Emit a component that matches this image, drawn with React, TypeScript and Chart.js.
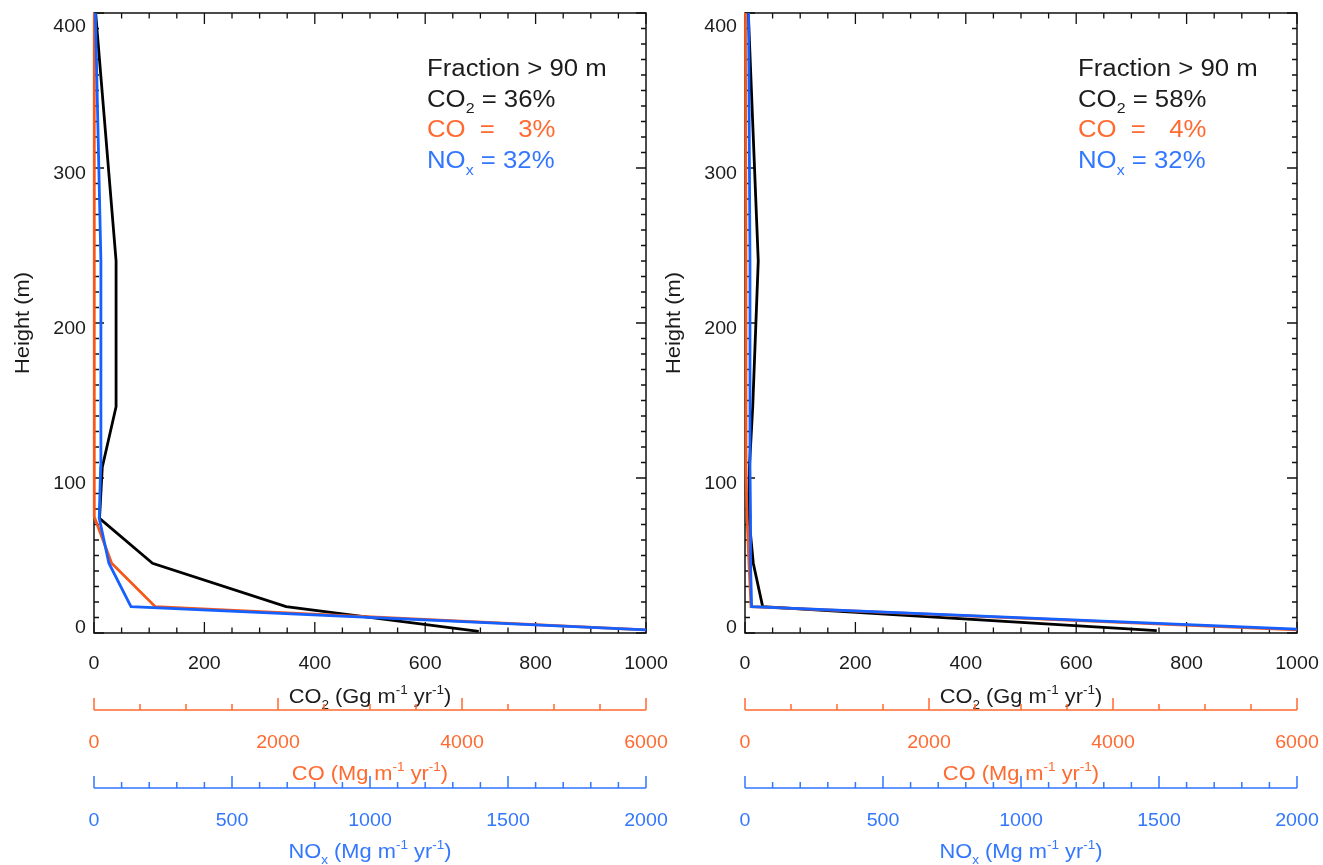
import React, { useEffect, useRef } from 'react';
import { Chart, registerables } from 'chart.js';

Chart.register(...registerables);

// ---------- axis ticks ----------
const heightTicks = [0, 100, 200, 300, 400];
const heightMinorStep = 10;
const co2Ticks = [0, 200, 400, 600, 800, 1000];
const co2MinorStep = 50;
const coTicks = [0, 2000, 4000, 6000];
const coMinorStep = 500;
const noxTicks = [0, 500, 1000, 1500, 2000];
const noxMinorStep = 100;

// ---------- left panel data ----------
const co2HeightsL = [1, 17, 45, 74, 107, 146, 240, 400];
const co2ValuesL = [697, 348, 106, 10, 15, 40, 40, 3];
const coHeightsL = [2, 17, 45, 75, 107, 146, 240, 400];
const coValuesL = [6000, 666, 192, 3, 3, 3, 3, 3];
const noxHeightsL = [2, 17, 45, 74, 107, 146, 240, 400];
const noxValuesL = [2000, 134, 54, 19, 24, 25, 25, 5];
const fractionsL = ['36%', '3%', '32%'];

// ---------- right panel data ----------
const co2HeightsR = [1.5, 17, 45, 75, 107, 146, 240, 400];
const co2ValuesR = [746, 32, 15, 7, 8, 14, 24, 6];
const coHeightsR = [2, 17, 45, 75, 107, 146, 240, 400];
const coValuesR = [6000, 65, 43, 22, 11, 11, 11, 5];
const noxHeightsR = [2.5, 17, 45, 75, 107, 146, 240, 400];
const noxValuesR = [2000, 24, 20, 20, 18, 18, 18, 13];
const fractionsR = ['58%', '4%', '32%'];

// ---------- style ----------
const FONT = '"Liberation Sans", Arial, Helvetica, sans-serif';
const STRETCH = 1.12;
const AXIS = '#111111';
const TEXT = '#1c1c1c';
const ORANGE_LINE = '#F5581A';
const ORANGE_TEXT = '#FF6A30';
const BLUE_LINE = '#1560FF';
const BLUE_TEXT = '#3377FF';

type Seg = { t: string; s?: 'sub' | 'sup' };

function segSize(seg: Seg, size: number) {
  return seg.s ? size * 0.62 : size;
}

function measureSegs(ctx: CanvasRenderingContext2D, segs: Seg[], size: number) {
  return segs.map((seg) => {
    ctx.font = `${segSize(seg, size)}px ${FONT}`;
    return ctx.measureText(seg.t).width * STRETCH;
  });
}

function fillStretched(ctx: CanvasRenderingContext2D, t: string, x: number, y: number, size: number, color: string) {
  ctx.save();
  ctx.font = `${size}px ${FONT}`;
  ctx.fillStyle = color;
  ctx.textAlign = 'left';
  ctx.textBaseline = 'alphabetic';
  ctx.translate(x, y);
  ctx.scale(STRETCH, 1);
  ctx.fillText(t, 0, 0);
  ctx.restore();
}

function drawRich(
  ctx: CanvasRenderingContext2D,
  segs: Seg[],
  x: number,
  y: number,
  size: number,
  color: string,
  align: 'left' | 'center' | 'right' = 'left'
) {
  const widths = measureSegs(ctx, segs, size);
  const total = widths.reduce((a, b) => a + b, 0);
  let cx = align === 'center' ? x - total / 2 : align === 'right' ? x - total : x;
  const starts: number[] = [];
  segs.forEach((seg, i) => {
    const dy = seg.s === 'sub' ? size * 0.29 : seg.s === 'sup' ? -size * 0.45 : 0;
    starts.push(cx);
    fillStretched(ctx, seg.t, cx, y + dy, segSize(seg, size), color);
    cx += widths[i];
  });
  return { starts, widths, total };
}

function textW(ctx: CanvasRenderingContext2D, t: string, size: number) {
  ctx.font = `${size}px ${FONT}`;
  return ctx.measureText(t).width * STRETCH;
}

function makePlugin(fractions: string[]) {
  return {
    id: 'idlAxes',
    beforeDatasetsDraw(chart: any) {
      const ctx: CanvasRenderingContext2D = chart.ctx;
      const { left, right, top, bottom } = chart.chartArea;
      const xs = chart.scales.x;
      const ys = chart.scales.y;
      ctx.save();
      ctx.strokeStyle = AXIS;
      ctx.lineWidth = 1.5;
      ctx.strokeRect(left, top, right - left, bottom - top);
      ctx.lineWidth = 1.3;
      ctx.beginPath();
      // x ticks (bottom & top)
      for (let v = xs.min; v <= xs.max + 1e-9; v += co2MinorStep) {
        const px = xs.getPixelForValue(v);
        const len = co2Ticks.includes(v) ? 11 : 5.5;
        ctx.moveTo(px, bottom);
        ctx.lineTo(px, bottom - len);
        ctx.moveTo(px, top);
        ctx.lineTo(px, top + len);
      }
      // y ticks (left & right)
      for (let v = ys.min; v <= ys.max + 1e-9; v += heightMinorStep) {
        const py = ys.getPixelForValue(v);
        const len = heightTicks.includes(v) ? 10 : 5;
        ctx.moveTo(left, py);
        ctx.lineTo(left + len, py);
        ctx.moveTo(right, py);
        ctx.lineTo(right - len, py);
      }
      ctx.stroke();
      ctx.restore();
    },
    afterDraw(chart: any) {
      const ctx: CanvasRenderingContext2D = chart.ctx;
      const { left, right, top, bottom } = chart.chartArea;
      const xs = chart.scales.x;
      const xco = chart.scales.xco;
      const xno = chart.scales.xno;
      const ys = chart.scales.y;
      const cx = (left + right) / 2;
      const TICK = 17.5;
      const TITLE = 19.5;

      // y tick labels
      heightTicks.forEach((v) => {
        const py = ys.getPixelForValue(v);
        const base = Math.min(Math.max(py + 11, top + 19), bottom);
        const w = textW(ctx, String(v), TICK);
        fillStretched(ctx, String(v), left - 8 - w, base, TICK, TEXT);
      });

      // CO2 tick labels
      co2Ticks.forEach((v) => {
        const px = xs.getPixelForValue(v);
        const w = textW(ctx, String(v), TICK);
        fillStretched(ctx, String(v), px - w / 2, bottom + 36, TICK, TEXT);
      });
      drawRich(
        ctx,
        [{ t: 'CO' }, { t: '2', s: 'sub' }, { t: ' (Gg m' }, { t: '-1', s: 'sup' }, { t: ' yr' }, { t: '-1', s: 'sup' }, { t: ')' }],
        cx,
        bottom + 70,
        TITLE,
        TEXT,
        'center'
      );

      // extra axes
      const extra = [
        { scale: xco, ticks: coTicks, step: coMinorStep, lineY: bottom + 77, color: ORANGE_TEXT,
          title: [{ t: 'CO (Mg m' }, { t: '-1', s: 'sup' }, { t: ' yr' }, { t: '-1', s: 'sup' }, { t: ')' }] as Seg[] },
        { scale: xno, ticks: noxTicks, step: noxMinorStep, lineY: bottom + 155, color: BLUE_TEXT,
          title: [{ t: 'NO' }, { t: 'x', s: 'sub' }, { t: ' (Mg m' }, { t: '-1', s: 'sup' }, { t: ' yr' }, { t: '-1', s: 'sup' }, { t: ')' }] as Seg[] },
      ];
      extra.forEach((ax) => {
        const s = ax.scale;
        ctx.save();
        ctx.strokeStyle = ax.color;
        ctx.lineWidth = 1.5;
        ctx.beginPath();
        ctx.moveTo(s.getPixelForValue(s.min), ax.lineY);
        ctx.lineTo(s.getPixelForValue(s.max), ax.lineY);
        for (let v = s.min; v <= s.max + 1e-9; v += ax.step) {
          const px = s.getPixelForValue(v);
          const len = ax.ticks.includes(v) ? 12 : 6;
          ctx.moveTo(px, ax.lineY);
          ctx.lineTo(px, ax.lineY - len);
        }
        ctx.stroke();
        ctx.restore();
        ax.ticks.forEach((v) => {
          const px = s.getPixelForValue(v);
          const w = textW(ctx, String(v), TICK);
          fillStretched(ctx, String(v), px - w / 2, ax.lineY + 38, TICK, ax.color);
        });
        drawRich(ctx, ax.title, cx, ax.lineY + 70, TITLE, ax.color, 'center');
      });

      // y axis title
      ctx.save();
      ctx.translate(left - 72, (top + bottom) / 2);
      ctx.rotate(-Math.PI / 2);
      drawRich(ctx, [{ t: 'Height (m)' }], 0, 7, TITLE, TEXT, 'center');
      ctx.restore();

      // annotation
      const AS = 23;
      const ax0 = left + 333;
      drawRich(ctx, [{ t: 'Fraction > 90 m' }], ax0, top + 63, AS, TEXT);
      const co2Line = drawRich(ctx, [{ t: 'CO' }, { t: '2', s: 'sub' }, { t: ' = ' }, { t: fractions[0] }], ax0, top + 93.7, AS, TEXT);
      const eqX = co2Line.starts[2] + textW(ctx, ' ', AS);
      const rightEdge = co2Line.starts[3] + co2Line.widths[3];
      drawRich(ctx, [{ t: 'CO' }], ax0, top + 124.3, AS, ORANGE_TEXT);
      drawRich(ctx, [{ t: '=' }], eqX - 2, top + 124.3, AS, ORANGE_TEXT);
      drawRich(ctx, [{ t: fractions[1] }], rightEdge, top + 124.3, AS, ORANGE_TEXT, 'right');
      drawRich(ctx, [{ t: 'NO' }, { t: 'x', s: 'sub' }, { t: ' = ' }, { t: fractions[2] }], ax0, top + 155.3, AS, BLUE_TEXT);
    },
  };
}

type PanelProps = {
  width: number;
  plotRight: number;
  co2H: number[]; co2V: number[];
  coH: number[]; coV: number[];
  noxH: number[]; noxV: number[];
  fractions: string[];
};

function toPoints(hs: number[], vs: number[]) {
  return hs.map((h, i) => ({ x: vs[i], y: h }));
}

function Panel(props: PanelProps) {
  const ref = useRef<HTMLCanvasElement | null>(null);
  useEffect(() => {
    if (!ref.current) return;
    const clip = { left: 3, top: 2, right: 0, bottom: 2 };
    const chart = new Chart(ref.current, {
      type: 'line',
      data: {
        datasets: [
          {
            label: 'NOx', data: toPoints(props.noxH, props.noxV), xAxisID: 'xno', yAxisID: 'y',
            borderColor: BLUE_LINE, borderWidth: 2.8, pointRadius: 0, order: 1, clip, tension: 0,
          },
          {
            label: 'CO', data: toPoints(props.coH, props.coV), xAxisID: 'xco', yAxisID: 'y',
            borderColor: ORANGE_LINE, borderWidth: 2.8, pointRadius: 0, order: 2, clip, tension: 0,
          },
          {
            label: 'CO2', data: toPoints(props.co2H, props.co2V), xAxisID: 'x', yAxisID: 'y',
            borderColor: '#000000', borderWidth: 2.8, pointRadius: 0, order: 3, clip, tension: 0,
          },
        ],
      } as any,
      options: {
        responsive: false,
        animation: false,
        events: [],
        layout: { padding: { left: 94, right: props.width - props.plotRight, top: 13, bottom: 232 }, autoPadding: false },
        scales: {
          x: { type: 'linear', min: 0, max: 1000, display: false, position: 'bottom' },
          xco: { type: 'linear', min: 0, max: 6000, display: false, position: 'bottom' },
          xno: { type: 'linear', min: 0, max: 2000, display: false, position: 'bottom' },
          y: { type: 'linear', min: 0, max: 400, display: false, position: 'left' },
        },
        plugins: { legend: { display: false }, tooltip: { enabled: false } },
      } as any,
      plugins: [makePlugin(props.fractions)],
    });
    return () => chart.destroy();
  }, []);
  return <canvas ref={ref} width={props.width} height={865} style={{ display: 'block' }} />;
}

export default function App() {
  return (
    <div style={{ position: 'fixed', left: 0, top: 0, width: 1323, height: 865, background: '#ffffff' }}>
      <div style={{ position: 'absolute', left: 0, top: 0 }}>
        <Panel width={700} plotRight={646} co2H={co2HeightsL} co2V={co2ValuesL} coH={coHeightsL} coV={coValuesL}
          noxH={noxHeightsL} noxV={noxValuesL} fractions={fractionsL} />
      </div>
      <div style={{ position: 'absolute', left: 651, top: 0 }}>
        <Panel width={672} plotRight={646} co2H={co2HeightsR} co2V={co2ValuesR} coH={coHeightsR} coV={coValuesR}
          noxH={noxHeightsR} noxV={noxValuesR} fractions={fractionsR} />
      </div>
    </div>
  );
}
